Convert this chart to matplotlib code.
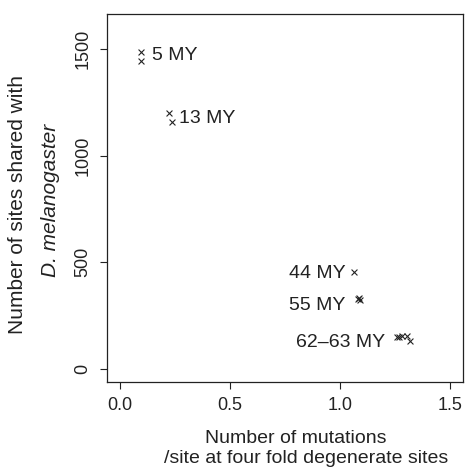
import matplotlib
matplotlib.use("Agg")
import matplotlib.pyplot as plt

plt.rcParams['font.family'] = ['Liberation Sans', 'DejaVu Sans']

# divergence (mutations/site at 4-fold sites) vs shared sites
div = [0.097, 0.097, 0.222, 0.235, 1.064, 1.083, 1.089, 1.086,
       1.258, 1.268, 1.282, 1.305, 1.318]
shared = [1488, 1445, 1201, 1160, 452, 326, 324, 329,
          150, 148, 152, 155, 130]

group_labels = ["5 MY", "13 MY", "44 MY", "55 MY", "62\u201363 MY"]
label_x = [0.145, 0.268, 0.768, 0.768, 0.800]
label_y = [1472, 1176, 447, 296, 122]

xticks = [0.0, 0.5, 1.0, 1.5]
yticks = [0, 500, 1000, 1500]

fig = plt.figure(figsize=(4.65, 4.73), dpi=100)
ax = fig.add_axes([0.230, 0.192, 0.766, 0.778])

ax.scatter(div, shared, marker='x', s=18, linewidths=0.8, color='#222222')
for lab, lx, ly in zip(group_labels, label_x, label_y):
    ax.text(lx, ly, lab, ha='left', va='center', fontsize=14, color='#222222')

ax.set_xlim(-0.06, 1.56)
ax.set_ylim(-64, 1664)
ax.set_xticks(xticks)
ax.set_xticklabels([f"{t:.1f}" for t in xticks])
ax.set_yticks(yticks)
ax.set_yticklabels([str(t) for t in yticks], rotation=90, va='center')
ax.tick_params(axis='both', direction='out', length=5, width=0.8,
               labelsize=13, colors='#222222')
ax.tick_params(axis='x', pad=6)
ax.tick_params(axis='y', pad=6)
for sp in ax.spines.values():
    sp.set_linewidth(0.9)
    sp.set_color('#222222')

# axis titles (two lines each, placed like the original)
fig.text(296 / 465, 1 - 438 / 473, "Number of mutations", ha='center', va='center',
         fontsize=14, color='#222222')
fig.text(306 / 465, 1 - 458 / 473, "/site at four fold degenerate sites", ha='center',
         va='center', fontsize=14, color='#222222')
fig.text(18 / 465, 1 - 204 / 473, "Number of sites shared with", ha='center', va='center',
         rotation=90, fontsize=15, color='#222222')
fig.text(50 / 465, 1 - 200 / 473, "D. melanogaster", ha='center', va='center',
         rotation=90, fontsize=15, style='italic', color='#222222')

fig.savefig("out.png", dpi=100, facecolor='white')
